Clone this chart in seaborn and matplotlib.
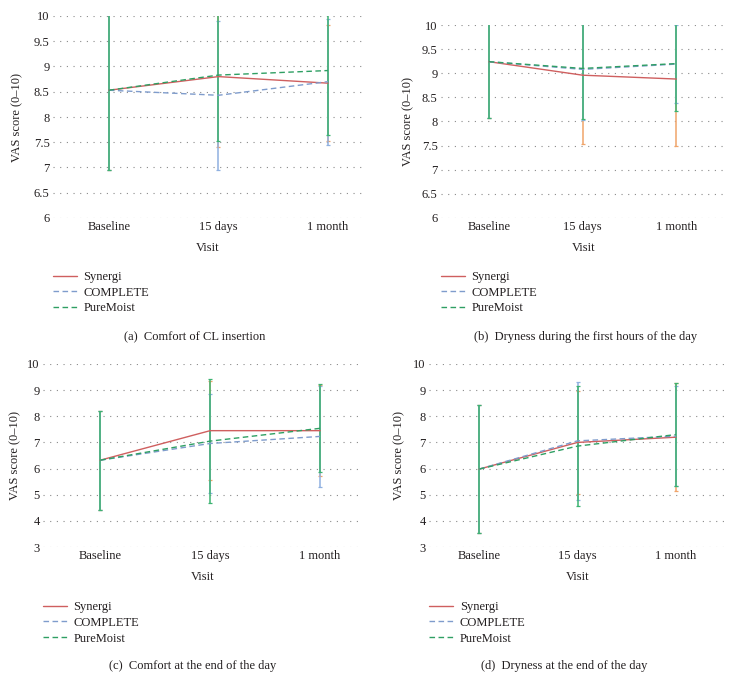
import matplotlib
matplotlib.use('Agg')
import matplotlib.pyplot as plt
import pandas as pd
import seaborn as sns

# Data (mean VAS score and SD per visit)
visits = ['Baseline', '15 days', '1 month']
lenses = ['Synergi', 'COMPLETE', 'PureMoist']

a_mean = {'Synergi': [8.53, 8.80, 8.67], 'COMPLETE': [8.53, 8.43, 8.70], 'PureMoist': [8.53, 8.83, 8.92]}
a_sd = {'Synergi': [1.58, 1.40, 1.15], 'COMPLETE': [1.58, 1.48, 1.25], 'PureMoist': [1.58, 1.30, 1.27]}

b_mean = {'Synergi': [9.24, 8.96, 8.88], 'COMPLETE': [9.24, 9.08, 9.19], 'PureMoist': [9.24, 9.10, 9.20]}
b_sd = {'Synergi': [1.16, 1.43, 1.38], 'COMPLETE': [1.16, 1.05, 0.81], 'PureMoist': [1.16, 1.05, 0.99]}

c_mean = {'Synergi': [6.32, 7.45, 7.45], 'COMPLETE': [6.32, 6.96, 7.23], 'PureMoist': [6.32, 7.05, 7.54]}
c_sd = {'Synergi': [1.90, 1.89, 1.74], 'COMPLETE': [1.90, 1.88, 1.93], 'PureMoist': [1.90, 2.38, 1.69]}

d_mean = {'Synergi': [5.98, 7.00, 7.20], 'COMPLETE': [5.98, 7.06, 7.24], 'PureMoist': [5.98, 6.86, 7.30]}
d_sd = {'Synergi': [2.45, 1.98, 2.06], 'COMPLETE': [2.45, 2.26, 1.90], 'PureMoist': [2.45, 2.29, 1.96]}

captions = ['(a)  Comfort of CL insertion',
            '(b)  Dryness during the first hours of the day',
            '(c)  Comfort at the end of the day',
            '(d)  Dryness at the end of the day']

line_colors = {'Synergi': '#cf5f5f', 'COMPLETE': '#7f9ccc', 'PureMoist': '#2f9f63'}
err_colors = {'Synergi': '#f0a46a', 'COMPLETE': '#8fb0e0', 'PureMoist': '#3cb371'}
dash_styles = {'Synergi': '', 'COMPLETE': (4, 2.5), 'PureMoist': (4, 2.5)}

W, H = 732, 682
TEXT = '#231f20'

sns.set_theme(style='white')
plt.rcParams['font.family'] = ['Liberation Serif', 'DejaVu Serif']
plt.rcParams['text.color'] = TEXT
plt.rcParams['axes.labelcolor'] = TEXT
plt.rcParams['xtick.color'] = TEXT
plt.rcParams['ytick.color'] = TEXT

fig = plt.figure(figsize=(W / 100, H / 100), dpi=100)

# panel boxes in pixels: left, right, top, bottom, ylim, yticks, xlim, ylabel x, caption x
panels = [
    (53, 363, 16, 218, (6, 10), [6 + 0.5 * i for i in range(9)], (-0.51, 2.32), 17, 195),
    (441, 726, 25, 218, (6, 10), [6 + 0.5 * i for i in range(9)], (-0.51, 2.53), 408, 586),
    (43, 363, 364, 547, (3, 10), list(range(3, 11)), (-0.52, 2.39), 15, 193),
    (429, 726, 364, 547, (3, 10), list(range(3, 11)), (-0.51, 2.51), 399, 564),
]
means = [a_mean, b_mean, c_mean, d_mean]
sds = [a_sd, b_sd, c_sd, d_sd]


def fmt(v):
    return str(int(v)) if float(v).is_integer() else str(v)


for i, (l, r, t, b, ylim, yticks, xlim, ylx, capx) in enumerate(panels):
    ax = fig.add_axes([l / W, 1 - b / H, (r - l) / W, (b - t) / H])
    rows = []
    for lens in lenses:
        for j in range(len(visits)):
            rows.append({'x': j, 'score': means[i][lens][j], 'Lens': lens})
    df = pd.DataFrame(rows)

    # error bars (mean +/- SD), green drawn last
    for lens in lenses:
        ax.errorbar(range(len(visits)), means[i][lens], yerr=sds[i][lens], fmt='none',
                    ecolor=err_colors[lens], elinewidth=1.1, capsize=1.6, capthick=0.9, zorder=2)

    sns.lineplot(data=df, x='x', y='score', hue='Lens', style='Lens', hue_order=lenses,
                 style_order=lenses, palette=line_colors, dashes=dash_styles, linewidth=1.0,
                 ax=ax, zorder=3)

    ax.set_xlim(*xlim)
    ax.set_ylim(*ylim)
    ax.set_xticks(range(len(visits)))
    ax.set_xticklabels(visits, fontsize=9)
    ax.set_yticks(yticks)
    ax.set_yticklabels([fmt(v) for v in yticks], fontsize=9)
    ax.tick_params(length=0, pad=2.5)
    ax.yaxis.grid(True, linestyle=(0, (1, 5)), color='#8a8a8a', linewidth=0.8)
    ax.xaxis.grid(False)
    for s in ax.spines.values():
        s.set_visible(False)

    ax.set_xlabel('Visit', fontsize=9)
    ax.xaxis.set_label_coords(0.5, -(24) / (b - t))
    ax.set_ylabel('VAS score (0–10)', fontsize=9)
    ax.yaxis.set_label_coords((ylx + 6 - l) / (r - l), 0.5)

    sns.move_legend(ax, 'upper left', bbox_to_anchor=(0, -(53 if i < 2 else 54) / (b - t)),
                    frameon=False, title=None, fontsize=9, borderaxespad=0, borderpad=0,
                    handlelength=1.9, handletextpad=0.55, labelspacing=0.3)

    fig.text(capx / W, 1 - (119 + b) / H, captions[i], fontsize=9, ha='center', va='center')

fig.savefig('out.png', dpi=100)
